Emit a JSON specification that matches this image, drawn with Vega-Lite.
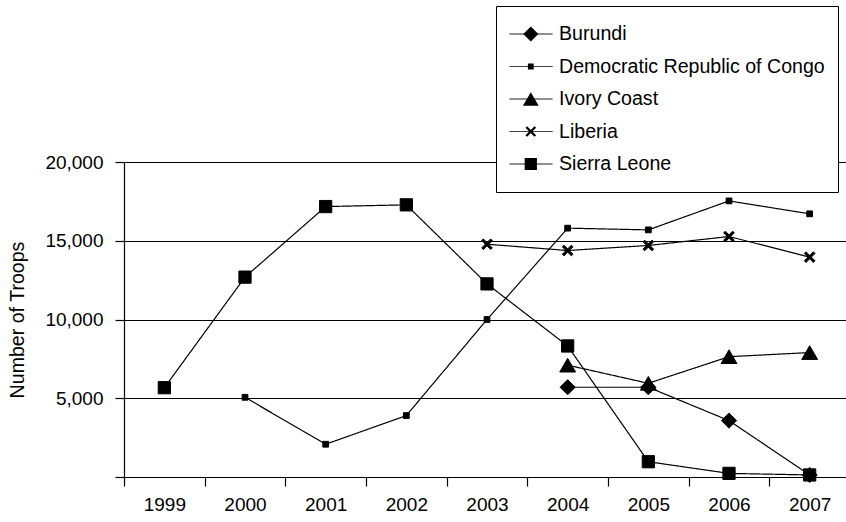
{
  "$schema": "https://vega.github.io/schema/vega-lite/v6.json",
  "width": 722,
  "height": 315,
  "autosize": {"type": "none"},
  "padding": {"left": 124, "top": 162, "right": 0, "bottom": 45},
  "background": "white",
  "config": {
    "view": {"stroke": null},
    "font": "Liberation Sans",
    "axis": {"labelFont": "Liberation Sans", "titleFont": "Liberation Sans", "labelColor": "black", "titleColor": "black", "domainColor": "black", "tickColor": "black", "domainWidth": 1.2, "tickWidth": 1.2},
    "legend": {"labelFont": "Liberation Sans", "labelColor": "black"}
  },
  "data": {
    "values": [
      {"country": "Sierra Leone", "year": "1999", "troops": 5670},
      {"country": "Sierra Leone", "year": "2000", "troops": 12690},
      {"country": "Sierra Leone", "year": "2001", "troops": 17170},
      {"country": "Sierra Leone", "year": "2002", "troops": 17280},
      {"country": "Sierra Leone", "year": "2003", "troops": 12260},
      {"country": "Sierra Leone", "year": "2004", "troops": 8320},
      {"country": "Sierra Leone", "year": "2005", "troops": 970},
      {"country": "Sierra Leone", "year": "2006", "troops": 230},
      {"country": "Sierra Leone", "year": "2007", "troops": 130},
      {"country": "Democratic Republic of Congo", "year": "2000", "troops": 5060},
      {"country": "Democratic Republic of Congo", "year": "2001", "troops": 2080},
      {"country": "Democratic Republic of Congo", "year": "2002", "troops": 3900},
      {"country": "Democratic Republic of Congo", "year": "2003", "troops": 10000},
      {"country": "Democratic Republic of Congo", "year": "2004", "troops": 15800},
      {"country": "Democratic Republic of Congo", "year": "2005", "troops": 15690},
      {"country": "Democratic Republic of Congo", "year": "2006", "troops": 17530},
      {"country": "Democratic Republic of Congo", "year": "2007", "troops": 16710},
      {"country": "Ivory Coast", "year": "2004", "troops": 7100},
      {"country": "Ivory Coast", "year": "2005", "troops": 5950},
      {"country": "Ivory Coast", "year": "2006", "troops": 7640},
      {"country": "Ivory Coast", "year": "2007", "troops": 7900},
      {"country": "Liberia", "year": "2003", "troops": 14780},
      {"country": "Liberia", "year": "2004", "troops": 14380},
      {"country": "Liberia", "year": "2005", "troops": 14700},
      {"country": "Liberia", "year": "2006", "troops": 15270},
      {"country": "Liberia", "year": "2007", "troops": 13960},
      {"country": "Burundi", "year": "2004", "troops": 5700},
      {"country": "Burundi", "year": "2005", "troops": 5700},
      {"country": "Burundi", "year": "2006", "troops": 3580},
      {"country": "Burundi", "year": "2007", "troops": 130}
    ]
  },
  "encoding": {
    "x": {
      "field": "year", "type": "ordinal",
      "scale": {"type": "band", "paddingInner": 0, "paddingOuter": 0, "range": [0, 726]},
      "axis": {"title": null, "labelAngle": 0, "tickBand": "extent", "tickSize": 9, "labelFontSize": 19, "labelPadding": 9, "grid": false}
    },
    "y": {
      "field": "troops", "type": "quantitative",
      "scale": {"domain": [0, 20000], "nice": false},
      "axis": {
        "values": [0, 5000, 10000, 15000, 20000],
        "format": ",d",
        "labelExpr": "datum.value == 0 ? '' : datum.label",
        "grid": true, "gridColor": "black", "gridWidth": 1.1, "gridOpacity": 1,
        "tickSize": 9, "labelPadding": 12, "labelFontSize": 19,
        "title": "Number of Troops", "titleFontSize": 19.6, "titleFontWeight": "normal", "titlePadding": 17
      }
    }
  },
  "layer": [
    {
      "mark": {"type": "line", "color": "black", "strokeWidth": 1.2},
      "encoding": {
        "strokeDash": {
          "field": "country", "type": "nominal",
          "scale": {"range": [[1, 0], [1, 0], [1, 0], [1, 0], [1, 0]]},
          "legend": {
            "title": null, "orient": "none", "legendX": 372, "legendY": -156,
            "zindex": 1,
            "fillColor": "white", "strokeColor": "black", "padding": 13,
            "symbolType": "stroke", "symbolSize": 1849, "symbolStrokeWidth": 1, "symbolStrokeColor": "black",
            "labelFontSize": 19.6, "labelOffset": 6, "labelLimit": 400,
            "clipHeight": 30, "rowPadding": 2.5
          }
        }
      }
    },
    {
      "mark": {"type": "point", "filled": true, "color": "black", "stroke": "black", "strokeWidth": 1, "size": 324, "opacity": 1},
      "encoding": {
        "shape": {
          "field": "country", "type": "nominal",
          "scale": {
            "domain": ["Burundi", "Democratic Republic of Congo", "Ivory Coast", "Liberia", "Sierra Leone"],
            "range": [
              "M0,-0.84L0.84,0L0,0.84L-0.84,0Z",
              "M-0.32,-0.32H0.32V0.32H-0.32Z",
              "M0,-0.76L0.88,0.76L-0.88,0.76Z",
              "M-0.408,-0.592L0.592,0.408L0.408,0.592L-0.592,-0.408ZM-0.592,0.408L0.408,-0.592L0.592,-0.408L-0.408,0.592Z",
              "M-0.68,-0.68H0.68V0.68H-0.68Z"
            ]
          },
          "legend": {
            "title": null, "orient": "none", "legendX": 372, "legendY": -156,
            "zindex": 2,
            "padding": 13,
            "symbolSize": 324, "symbolFillColor": "black", "symbolStrokeColor": "black", "symbolStrokeWidth": 1, "symbolOpacity": 1,
            "symbolOffset": 12,
            "labelFontSize": 19.6, "labelOffset": 6, "labelExpr": "''", "labelLimit": 400,
            "clipHeight": 30, "rowPadding": 2.5
          }
        }
      }
    }
  ]
}
